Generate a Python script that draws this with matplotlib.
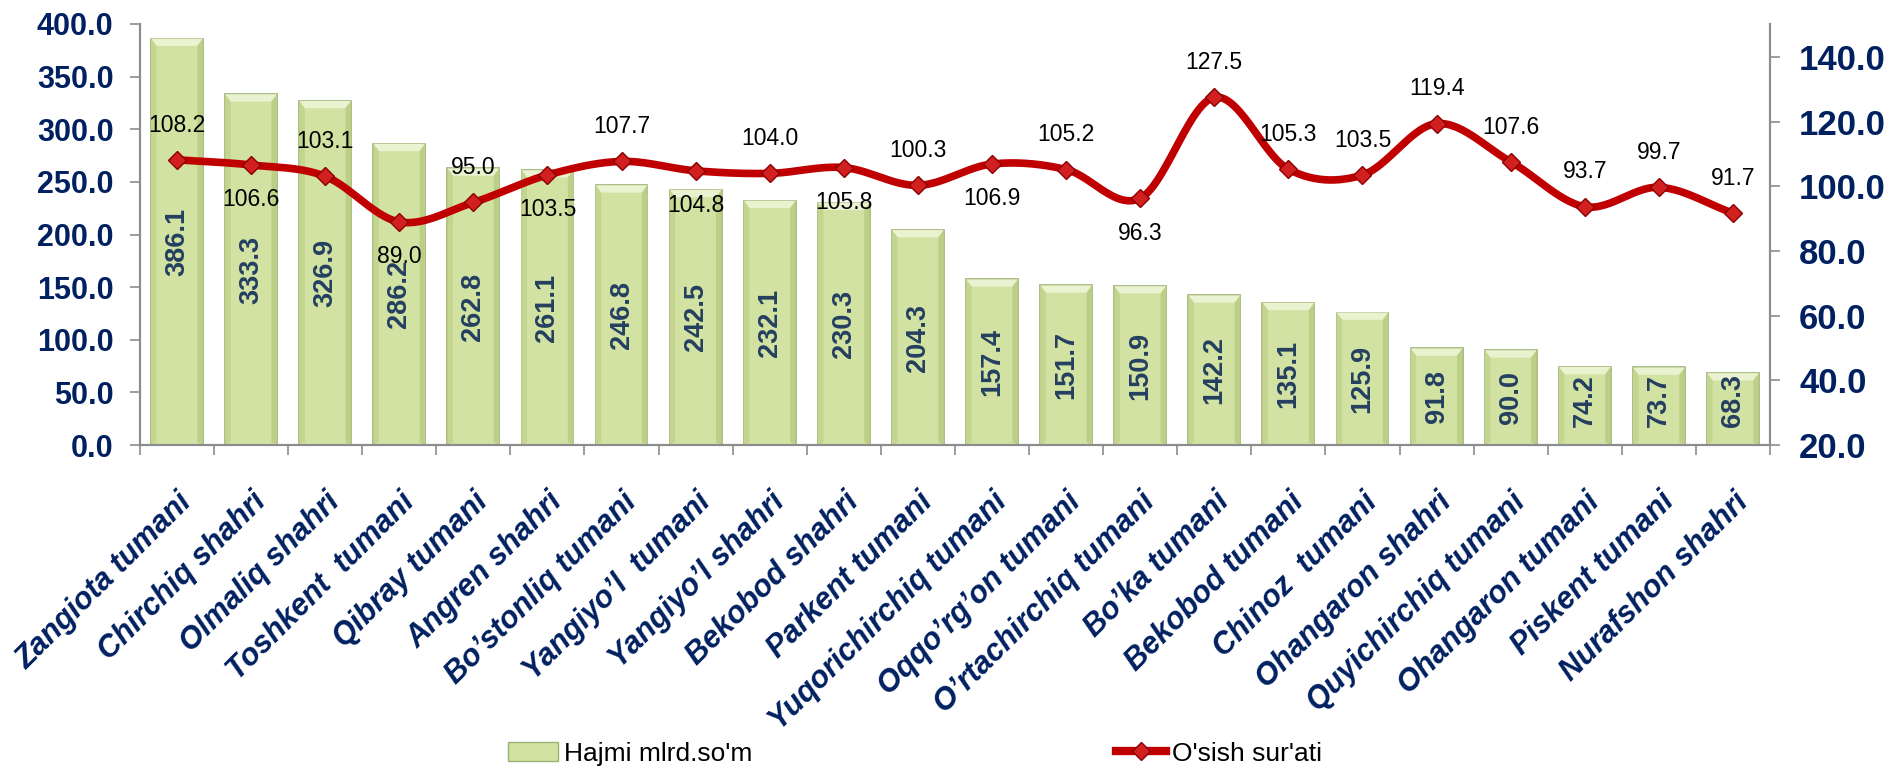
import numpy as np
import matplotlib
matplotlib.use("Agg")
import matplotlib.pyplot as plt
from matplotlib.lines import Line2D
from matplotlib.patches import Patch

# 数据
categories = ["Zangiota tumani", "Chirchiq shahri", "Olmaliq shahri", "Toshkent  tumani",
              "Qibray tumani", "Angren shahri", "Bo\u2019stonliq tumani", "Yangiyo\u2019l  tumani",
              "Yangiyo\u2019l shahri", "Bekobod shahri", "Parkent tumani", "Yuqorichirchiq tumani",
              "Oqqo\u2019rg\u2019on tumani", "O\u2019rtachirchiq tumani", "Bo\u2019ka tumani",
              "Bekobod tumani", "Chinoz  tumani", "Ohangaron shahri", "Quyichirchiq tumani",
              "Ohangaron tumani", "Piskent tumani", "Nurafshon shahri"]
hajmi = [386.1, 333.3, 326.9, 286.2, 262.8, 261.1, 246.8, 242.5, 232.1, 230.3, 204.3,
         157.4, 151.7, 150.9, 142.2, 135.1, 125.9, 91.8, 90.0, 74.2, 73.7, 68.3]
osish = [108.2, 106.6, 103.1, 89.0, 95.0, 103.5, 107.7, 104.8, 104.0, 105.8, 100.3,
         106.9, 105.2, 96.3, 127.5, 105.3, 103.5, 119.4, 107.6, 93.7, 99.7, 91.7]
# 标签在点的下方 (-1) 还是上方 (1)
label_side = [1, -1, 1, -1, 1, -1, 1, -1, 1, -1, 1, -1, 1, -1, 1, 1, 1, 1, 1, 1, 1, 1]

left_ticks = [0, 50, 100, 150, 200, 250, 300, 350, 400]
right_ticks = [20, 40, 60, 80, 100, 120, 140]

navy = "#002060"
grey = "#8c8c8c"
bar_color = "#d2e2a3"
bar_edge = "#9db272"
plt.rcParams['font.family'] = ['Liberation Sans', 'DejaVu Sans']

fig = plt.figure(figsize=(19.01, 7.69), dpi=100)
ax = fig.add_axes([0.0736, 0.4213, 0.8575, 0.5475])
ax2 = ax.twinx()

x = np.arange(len(categories))
w = 0.70

# 柱状图
ax.bar(x, hajmi, width=w, color=bar_color, edgecolor=bar_edge, linewidth=1.2, zorder=2)
# 斜面效果 (顶部亮, 两边暗)
bx = 0.075   # 横向斜面宽度 (数据单位)
by = 7.0     # 纵向斜面高度 (数据单位)
for xi, v in zip(x, hajmi):
    l, r = xi - w / 2, xi + w / 2
    ax.fill([l, r, r - bx, l + bx], [v, v, v - by, v - by], color="#eaf2cf", lw=0, zorder=2.1)
    ax.fill([l, l + bx, l + bx, l], [v, v - by, by * 0.4, 0], color="#c3d58f", lw=0, zorder=2.1)
    ax.fill([r, r - bx, r - bx, r], [v, v - by, by * 0.4, 0], color="#bccf87", lw=0, zorder=2.1)
    ax.text(xi, max(v / 2, 42), f"{v:.1f}", rotation=90, ha="center", va="center",
            fontsize=19.5, fontweight="bold", color="#243f60", zorder=3)

ax.set_xlim(-0.5, len(categories) - 0.5)
ax.set_ylim(0, 400)
ax.set_yticks(left_ticks)
ax.set_yticklabels([f"{t:.1f}" for t in left_ticks], fontsize=22, fontweight="bold", color=navy)

# x 轴：标签在柱子中间，刻度线在分界处
ax.set_xticks(x)
ax.set_xticklabels(categories, rotation=45, ha="right", va="top", rotation_mode="anchor",
                   fontsize=22, fontweight="bold", fontstyle="italic", color=navy)
ax.tick_params(axis="x", which="major", length=0, pad=30)
ax.set_xticks(np.arange(-0.5, len(categories)), minor=True)
ax.tick_params(axis="x", which="minor", length=7, color=grey, width=1.2)
ax.tick_params(axis="y", length=7, color=grey, width=1.2, pad=12)

for a in (ax, ax2):
    a.spines["top"].set_visible(False)
    for s in ("left", "right", "bottom"):
        a.spines[s].set_color(grey)
        a.spines[s].set_linewidth(1.5)

# 平滑曲线 (Catmull-Rom)
y = np.array(osish)
n = len(y)
tang = np.zeros(n)
tang[1:-1] = (y[2:] - y[:-2]) / 2
tang[0] = y[1] - y[0]
tang[-1] = y[-1] - y[-2]
xs, ys = [], []
t = np.linspace(0, 1, 30)
for i in range(n - 1):
    h00 = 2 * t**3 - 3 * t**2 + 1
    h10 = t**3 - 2 * t**2 + t
    h01 = -2 * t**3 + 3 * t**2
    h11 = t**3 - t**2
    xs.extend(i + t)
    ys.extend(h00 * y[i] + h10 * tang[i] + h01 * y[i + 1] + h11 * tang[i + 1])

ax2.plot(xs, ys, color="#c00000", lw=5.5, solid_capstyle="round", zorder=4)
ax2.plot(x, osish, ls="none", marker="D", ms=9.5, mfc="#d21f1f", mec="#8b0000", mew=1, zorder=5)
for xi, v, s in zip(x, osish, label_side):
    ax2.annotate(f"{v:.1f}", (xi, v), xytext=(0, 25 * s), textcoords="offset points",
                 ha="center", va="center", fontsize=16.5, color="black", zorder=6)

ax2.set_ylim(20, 150.2)
ax2.set_yticks(right_ticks)
ax2.set_yticklabels([f"{t:.1f}" for t in right_ticks], fontsize=25, fontweight="bold", color=navy)
ax2.tick_params(axis="y", length=7, color=grey, width=1.2, pad=14)

# 图例
handles = [Patch(facecolor=bar_color, edgecolor=bar_edge),
           Line2D([0], [0], color="#c00000", lw=6, marker="D", ms=9, mfc="#d21f1f", mec="#8b0000")]
fig.legend(handles, ["Hajmi mlrd.so'm", "O'sish sur'ati"], loc="center", bbox_to_anchor=(0.4813, 0.02),
           ncol=2, frameon=False, fontsize=19, columnspacing=13.8, handlelength=1.9,
           handletextpad=0.2, handleheight=0.7)

fig.savefig("out.png", dpi=100)
